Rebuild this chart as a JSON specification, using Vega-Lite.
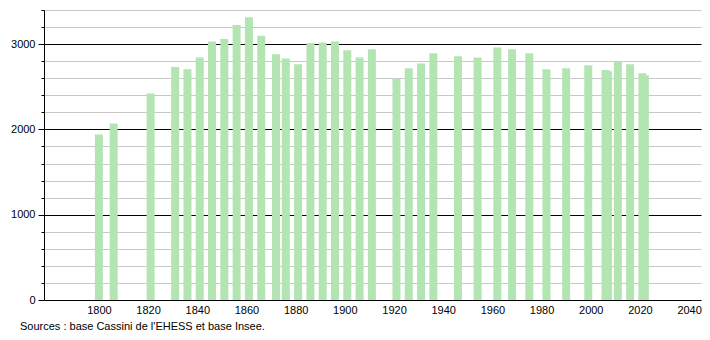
{
  "$schema": "https://vega.github.io/schema/vega-lite/v6.json",
  "width": 657,
  "height": 290,
  "autosize": "none",
  "padding": {"left": 44, "top": 10, "right": 9, "bottom": 40},
  "background": "white",
  "title": {
    "text": "Sources : base Cassini de l'EHESS et base Insee.",
    "orient": "bottom",
    "anchor": "start",
    "frame": "group",
    "dx": -24,
    "offset": 6,
    "fontSize": 11,
    "fontWeight": "normal",
    "font": "Liberation Sans",
    "color": "#000"
  },
  "data": {
    "values": [
      {"annee": 1800, "population": 1941},
      {"annee": 1806, "population": 2070},
      {"annee": 1821, "population": 2420},
      {"annee": 1831, "population": 2733},
      {"annee": 1836, "population": 2706},
      {"annee": 1841, "population": 2843},
      {"annee": 1846, "population": 3031},
      {"annee": 1851, "population": 3059},
      {"annee": 1856, "population": 3224},
      {"annee": 1861, "population": 3314},
      {"annee": 1866, "population": 3098},
      {"annee": 1872, "population": 2882},
      {"annee": 1876, "population": 2831},
      {"annee": 1881, "population": 2765},
      {"annee": 1886, "population": 3012},
      {"annee": 1891, "population": 3020},
      {"annee": 1896, "population": 3031},
      {"annee": 1901, "population": 2929},
      {"annee": 1906, "population": 2843},
      {"annee": 1911, "population": 2941},
      {"annee": 1921, "population": 2596},
      {"annee": 1926, "population": 2718},
      {"annee": 1931, "population": 2773},
      {"annee": 1936, "population": 2894},
      {"annee": 1946, "population": 2859},
      {"annee": 1954, "population": 2843},
      {"annee": 1962, "population": 2961},
      {"annee": 1968, "population": 2941},
      {"annee": 1975, "population": 2894},
      {"annee": 1982, "population": 2706},
      {"annee": 1990, "population": 2718},
      {"annee": 1999, "population": 2753},
      {"annee": 2006, "population": 2698},
      {"annee": 2007, "population": 2682},
      {"annee": 2011, "population": 2796},
      {"annee": 2016, "population": 2765},
      {"annee": 2021, "population": 2659},
      {"annee": 2022, "population": 2635}
    ]
  },
  "mark": {"type": "bar", "size": 8, "color": "#b3e5b3"},
  "encoding": {
    "x": {
      "field": "annee",
      "type": "quantitative",
      "scale": {"domain": [1779.7, 2042.8], "nice": false, "zero": false},
      "axis": {
        "title": null,
        "values": [1800, 1820, 1840, 1860, 1880, 1900, 1920, 1940, 1960, 1980, 2000, 2020, 2040],
        "format": "d",
        "grid": false,
        "ticks": false,
        "domainColor": "#000",
        "labelFont": "Liberation Sans",
        "labelFontSize": 11,
        "labelColor": "#000",
        "labelPadding": 4
      }
    },
    "y": {
      "field": "population",
      "type": "quantitative",
      "scale": {"domain": [0, 3400], "nice": false},
      "axis": {
        "title": null,
        "values": [0, 200, 400, 600, 800, 1000, 1200, 1400, 1600, 1800, 2000, 2200, 2400, 2600, 2800, 3000, 3200, 3400],
        "labelExpr": "datum.value % 1000 === 0 ? datum.value : ''",
        "grid": true,
        "gridColor": {"condition": {"test": "datum.value % 1000 === 0 && datum.value > 0", "value": "#000"}, "value": "#c8c8c8"},
        "gridOpacity": 1,
        "gridWidth": 1,
        "tickColor": "#000",
        "tickSize": {"condition": {"test": "datum.value % 1000 === 0", "value": 6}, "value": 3},
        "domainColor": "#000",
        "labelFont": "Liberation Sans",
        "labelFontSize": 11,
        "labelColor": "#000",
        "labelPadding": 3
      }
    }
  },
  "config": {"view": {"stroke": null}}
}
